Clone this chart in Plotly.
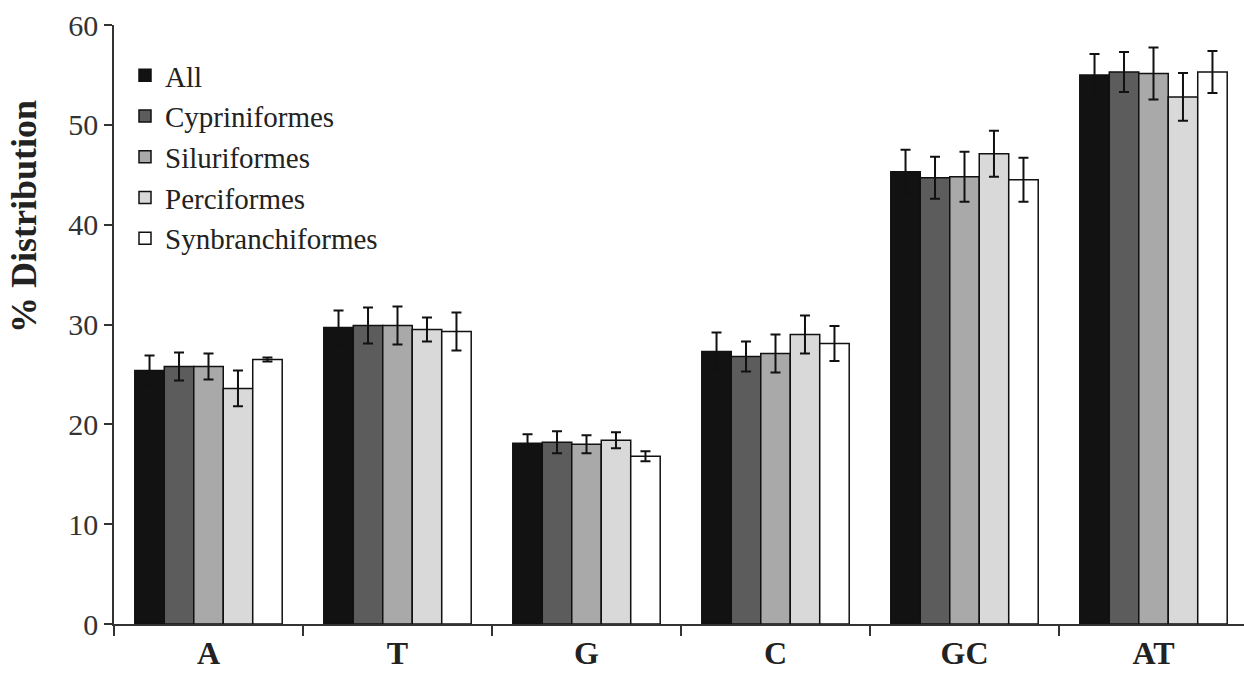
import plotly.graph_objects as go

categories = ["A", "T", "G", "C", "GC", "AT"]
series_names = ["All", "Cypriniformes", "Siluriformes", "Perciformes", "Synbranchiformes"]

all_vals = [25.4, 29.7, 18.1, 27.3, 45.3, 55.0]
all_err = [1.5, 1.7, 0.9, 1.9, 2.2, 2.1]
cyp_vals = [25.8, 29.9, 18.2, 26.8, 44.7, 55.3]
cyp_err = [1.4, 1.8, 1.1, 1.5, 2.1, 2.0]
sil_vals = [25.8, 29.9, 18.0, 27.1, 44.8, 55.15]
sil_err = [1.3, 1.9, 0.9, 1.9, 2.5, 2.6]
per_vals = [23.6, 29.5, 18.4, 29.0, 47.1, 52.8]
per_err = [1.8, 1.2, 0.8, 1.9, 2.3, 2.4]
syn_vals = [26.5, 29.3, 16.8, 28.1, 44.5, 55.3]
syn_err = [0.2, 1.9, 0.5, 1.75, 2.2, 2.1]

values = [all_vals, cyp_vals, sil_vals, per_vals, syn_vals]
errors = [all_err, cyp_err, sil_err, per_err, syn_err]
colors = ["#121212", "#5c5c5c", "#a9a9a9", "#d9d9d9", "#ffffff"]

W, H = 1244, 674
ML, MR, MT, MB = 114, 0, 25, 50
PW = W - ML - MR
PH = H - MT - MB

fig = go.Figure()
for name, vals, errs, col in zip(series_names, values, errors, colors):
    fig.add_trace(go.Bar(
        name=name, x=categories, y=vals,
        marker=dict(color=col, line=dict(color="#111111", width=1.5)),
        error_y=dict(type="data", array=errs, visible=True, color="#111111",
                     thickness=2, width=5),
    ))

font_family = "Liberation Serif"
fig.update_layout(
    width=W, height=H,
    margin=dict(l=ML, r=MR, t=MT, b=MB),
    barmode="group", bargap=0.22, bargroupgap=0,
    paper_bgcolor="#ffffff", plot_bgcolor="#ffffff",
    font=dict(family=font_family, color="#222222"),
    showlegend=True,
    legend=dict(
        x=(125 - ML) / PW, y=(MT + PH - 50) / PH, xanchor="left", yanchor="top",
        font=dict(family=font_family, size=29, color="#222222"),
        bgcolor="rgba(0,0,0,0)", itemwidth=30, tracegroupgap=0,
        traceorder="normal",
    ),
    xaxis=dict(
        type="category", range=[-0.5, -0.5 + PW / 189.0],
        showline=True, linecolor="#333333", linewidth=1.5,
        ticks="outside", tickson="boundaries", ticklen=10, tickcolor="#333333",
        tickwidth=1.5, automargin=False,
        tickfont=dict(family=font_family, size=32, color="#222222", weight="bold"),
        showgrid=False, zeroline=False,
    ),
    yaxis=dict(
        range=[0, 60], tickvals=[0, 10, 20, 30, 40, 50, 60],
        showline=True, linecolor="#333333", linewidth=1.5,
        ticks="outside", ticklen=8, tickcolor="#333333", tickwidth=1.5,
        automargin=False,
        tickfont=dict(family=font_family, size=30, color="#333333"),
        showgrid=False, zeroline=False,
    ),
)

fig.add_annotation(
    text="<b>% Distribution</b>", textangle=-90,
    xref="paper", yref="paper",
    x=(24 - ML) / PW, y=(MT + PH - 217) / PH,
    xanchor="center", yanchor="middle", showarrow=False,
    font=dict(family=font_family, size=36, color="#222222"),
)

fig.write_html(
    "out.html",
    config={"displayModeBar": False},
    post_script="document.body.style.margin='0';document.body.style.overflow='hidden';",
)
